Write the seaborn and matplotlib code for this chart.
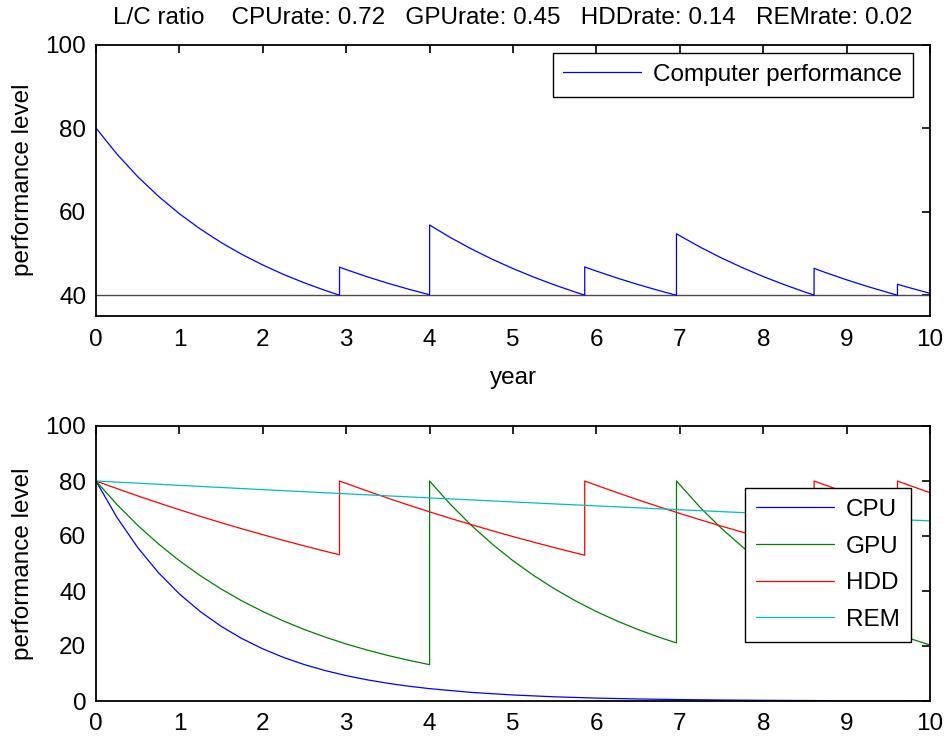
import matplotlib
matplotlib.use("Agg")
import matplotlib.pyplot as plt
import seaborn as sns
import pandas as pd

# ---------------- data ----------------
title_text = "L/C ratio    CPUrate: 0.72   GPUrate: 0.45   HDDrate: 0.14   REMrate: 0.02"

# overall computer performance (top panel); repeated years are the replacement jumps
perf_year = [0, 0.25, 0.5, 0.75, 1.0, 1.25, 1.5, 1.75, 2.0, 2.25, 2.5, 2.75, 2.92,
             2.92, 3.0, 3.25, 3.5, 3.75, 4.0,
             4.0, 4.25, 4.5, 4.75, 5.0, 5.25, 5.5, 5.75, 5.86,
             5.86, 6.0, 6.25, 6.5, 6.75, 6.96,
             6.96, 7.0, 7.25, 7.5, 7.75, 8.0, 8.25, 8.5, 8.61,
             8.61, 8.75, 9.0, 9.25, 9.5, 9.61,
             9.61, 9.75, 10.0]
perf_level = [80.0, 73.79, 68.37, 63.64, 59.48, 55.83, 52.60, 49.74, 47.21, 44.94, 42.92, 41.11, 39.98,
              46.69, 46.11, 44.40, 42.84, 41.41, 40.09,
              56.78, 53.78, 51.07, 48.60, 46.35, 44.30, 42.42, 40.70, 40.00,
              46.74, 45.75, 44.08, 42.53, 41.09, 39.96,
              54.68, 54.21, 51.43, 48.89, 46.57, 44.45, 42.52, 40.74, 40.01,
              46.40, 45.38, 43.66, 42.07, 40.60, 39.98,
              42.59, 41.79, 40.42]
threshold = 40

cpu_year = [0, 0.25, 0.5, 0.75, 1.0, 1.25, 1.5, 1.75, 2.0, 2.25, 2.5, 2.75, 3.0, 3.25, 3.5, 3.75,
            4.0, 4.5, 5.0, 5.5, 6.0, 6.5, 7.0, 7.5, 8.0, 8.5, 9.0, 9.5, 10.0]
cpu_level = [80.0, 66.82, 55.81, 46.62, 38.94, 32.53, 27.17, 22.69, 18.96, 15.83, 13.22, 11.05, 9.23, 7.71,
             6.44, 5.38, 4.49, 3.13, 2.19, 1.52, 1.06, 0.74, 0.52, 0.36, 0.25, 0.18, 0.12, 0.09, 0.06]

gpu_year = [0, 0.25, 0.5, 0.75, 1.0, 1.25, 1.5, 1.75, 2.0, 2.25, 2.5, 2.75, 3.0, 3.25, 3.5, 3.75, 4.0,
            4.0, 4.25, 4.5, 4.75, 5.0, 5.25, 5.5, 5.75, 6.0, 6.25, 6.5, 6.75, 6.96,
            6.96, 7.25, 7.5, 7.75, 8.0, 8.25, 8.5, 8.75, 9.0, 9.25, 9.5, 9.75, 10.0]
gpu_level = [80.0, 71.49, 63.88, 57.09, 51.01, 45.59, 40.74, 36.40, 32.53, 29.07, 25.98, 23.21, 20.74,
             18.54, 16.56, 14.80, 13.22,
             80.0, 71.49, 63.88, 57.09, 51.01, 45.59, 40.74, 36.40, 32.53, 29.07, 25.98, 23.21, 21.12,
             80.0, 70.22, 62.74, 56.07, 50.10, 44.77, 40.01, 35.75, 31.95, 28.55, 25.51, 22.80, 20.37]

hdd_year = [0, 0.25, 0.5, 0.75, 1.0, 1.25, 1.5, 1.75, 2.0, 2.25, 2.5, 2.75, 2.92,
            2.92, 3.25, 3.5, 3.75, 4.0, 4.25, 4.5, 4.75, 5.0, 5.25, 5.5, 5.75, 5.86,
            5.86, 6.0, 6.25, 6.5, 6.75, 7.0, 7.25, 7.5, 7.75, 8.0, 8.25, 8.5, 8.61,
            8.61, 8.75, 9.0, 9.25, 9.5, 9.61,
            9.61, 9.75, 10.0]
hdd_level = [80.0, 77.25, 74.59, 72.03, 69.55, 67.16, 64.85, 62.62, 60.47, 58.39, 56.38, 54.44, 53.17,
             80.0, 76.39, 73.76, 71.22, 68.78, 66.41, 64.13, 61.92, 59.79, 57.74, 55.75, 53.83, 53.01,
             80.0, 78.45, 75.75, 73.14, 70.63, 68.20, 65.85, 63.59, 61.40, 59.29, 57.25, 55.28, 54.44,
             80.0, 78.45, 75.75, 73.14, 70.63, 69.55,
             80.0, 78.45, 75.75]

rem_year = [0, 1, 2, 3, 4, 5, 6, 7, 8, 9, 10]
rem_level = [80.0, 78.42, 76.86, 75.34, 73.85, 72.39, 70.95, 69.55, 68.17, 66.82, 65.50]

components = ["CPU", "GPU", "HDD", "REM"]
colors = {"CPU": "#0000ff", "GPU": "#008000", "HDD": "#ff0000", "REM": "#00bfbf"}

# ---------------- build tables ----------------
top_df = pd.DataFrame({"year": perf_year, "level": perf_level,
                       "series": "Computer performance"})
parts = []
for name, xs, ys in [("CPU", cpu_year, cpu_level), ("GPU", gpu_year, gpu_level),
                     ("HDD", hdd_year, hdd_level), ("REM", rem_year, rem_level)]:
    parts.append(pd.DataFrame({"year": xs, "level": ys, "component": name}))
bot_df = pd.concat(parts, ignore_index=True)

# ---------------- style ----------------
sns.set_theme(style="white")
plt.rcParams["font.family"] = ["Liberation Sans", "DejaVu Sans"]
FS = 17.5
plt.rcParams.update({
    "axes.linewidth": 1.3,
    "axes.edgecolor": "black",
    "xtick.direction": "in", "ytick.direction": "in",
    "xtick.major.size": 6, "ytick.major.size": 6,
    "xtick.major.width": 1.2, "ytick.major.width": 1.2,
    "xtick.color": "black", "ytick.color": "black",
    "xtick.labelsize": FS, "ytick.labelsize": FS,
    "axes.labelsize": FS, "legend.fontsize": FS,
    "text.color": "black", "axes.labelcolor": "black",
})

W, H = 949, 737
fig = plt.figure(figsize=(W / 100, H / 100), dpi=100)
ax1 = fig.add_axes([96 / W, 1 - 316 / H, (930 - 96) / W, (316 - 44.5) / H])
ax2 = fig.add_axes([96 / W, 1 - 701 / H, (930 - 96) / W, (701 - 426) / H])

# top panel
ax1.axhline(threshold, color="0.3", lw=1.0, zorder=1)
sns.lineplot(data=top_df, x="year", y="level", hue="series", palette={"Computer performance": "#0000ff"},
             estimator=None, sort=False, lw=0.9, ax=ax1)
ax1.set_xlim(0, 10)
ax1.set_ylim(35, 100)
ax1.set_xticks(range(0, 11))
ax1.set_yticks([40, 60, 80, 100])
ax1.set_xlabel("year", labelpad=12)
ax1.set_ylabel("performance level", labelpad=8)
ax1.tick_params(top=True, right=True, pad=9)
ax1.tick_params(axis="y", pad=7)
leg1 = ax1.legend(loc="upper right", bbox_to_anchor=(0.98, 0.969), borderaxespad=0,
                  fancybox=False, edgecolor="black", framealpha=1, handlelength=3.2,
                  handletextpad=0.5, borderpad=0.45)
leg1.get_frame().set_linewidth(1.0)
ax1.set_title(title_text, fontsize=FS, pad=15)

# bottom panel
sns.lineplot(data=bot_df, x="year", y="level", hue="component", hue_order=components,
             palette=colors, estimator=None, sort=False, lw=0.9, ax=ax2)
ax2.set_xlim(0, 10)
ax2.set_ylim(0, 100)
ax2.set_xticks(range(0, 11))
ax2.set_yticks([0, 20, 40, 60, 80, 100])
ax2.set_xlabel("")
ax2.set_ylabel("performance level", labelpad=8)
ax2.tick_params(top=True, right=True, pad=9)
ax2.tick_params(axis="y", pad=7)
leg2 = ax2.legend(loc="upper right", bbox_to_anchor=(0.977, 0.7745), borderaxespad=0,
                  fancybox=False, edgecolor="black", framealpha=1, handlelength=3.2,
                  handletextpad=0.5, borderpad=0.45, labelspacing=0.6)
leg2.get_frame().set_linewidth(1.0)

fig.savefig("out.png", dpi=100)
